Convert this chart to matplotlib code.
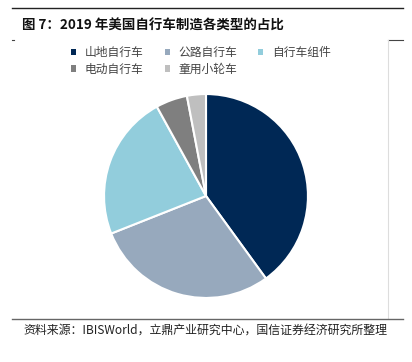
import matplotlib
matplotlib.use('Agg')
import matplotlib.pyplot as plt
from matplotlib.lines import Line2D
from matplotlib.patches import Patch

plt.rcParams['font.family'] = ['Noto Sans CJK SC', 'DejaVu Sans']

# data
labels = ['山地自行车', '公路自行车', '自行车组件', '电动自行车', '童用小轮车']
shares = [40, 29, 23, 5, 3]
colors = ['#002855', '#97a9bd', '#92cddc', '#7f7f7f', '#bfbfbf']

W, H = 412, 362
fig = plt.figure(figsize=(W / 100, H / 100), dpi=100)

def fx(x):
    return x / W

def fy(y):
    return 1 - y / H

# frame lines
fig.add_artist(Line2D([fx(12), fx(403)], [fy(8), fy(8)], color='#222222', lw=1.0))
fig.add_artist(Line2D([fx(12), fx(14)], [fy(40), fy(40)], color='#444444', lw=0.8))
fig.add_artist(Line2D([fx(388), fx(403)], [fy(40), fy(40)], color='#444444', lw=0.8))
fig.add_artist(Line2D([fx(388), fx(388)], [fy(40), fy(318)], color='#dddddd', lw=0.8))
fig.add_artist(Line2D([fx(12), fx(403)], [fy(319), fy(319)], color='#666666', lw=1.0))

fig.text(fx(22), fy(26), '图 7：2019 年美国自行车制造各类型的占比', fontsize=9.7,
         fontweight='bold', va='center', ha='left', color='#111111')
fig.text(fx(205), fy(331), '资料来源：IBISWorld，立鼎产业研究中心，国信证券经济研究所整理',
         fontsize=8.6, va='center', ha='center', color='#222222')

# pie
r = 104
cx, cy = 206, 196
ax = fig.add_axes([fx(cx - r), fy(cy + r), 2 * r / W, 2 * r / H])
ax.pie(shares, colors=colors, startangle=90, counterclock=False, radius=1,
       wedgeprops=dict(edgecolor='white', linewidth=1.5))
ax.set_xlim(-1.02, 1.02)
ax.set_ylim(-1.02, 1.02)
ax.set_aspect('equal')
ax.axis('off')

# legend, two rows of three
handles = [Patch(facecolor=c, edgecolor='none') for c in colors]
order = [0, 3, 1, 4, 2]
leg = fig.legend([handles[i] for i in order], [labels[i] for i in order],
                 ncol=3, loc='upper left', bbox_to_anchor=(fx(71), fy(46)),
                 frameon=False, fontsize=8.5, handlelength=0.45, handleheight=0.45,
                 handletextpad=0.7, columnspacing=1.8, labelspacing=0.3,
                 borderaxespad=0, borderpad=0)
for t in leg.get_texts():
    t.set_color('#444444')

fig.savefig('out.png', dpi=100)
